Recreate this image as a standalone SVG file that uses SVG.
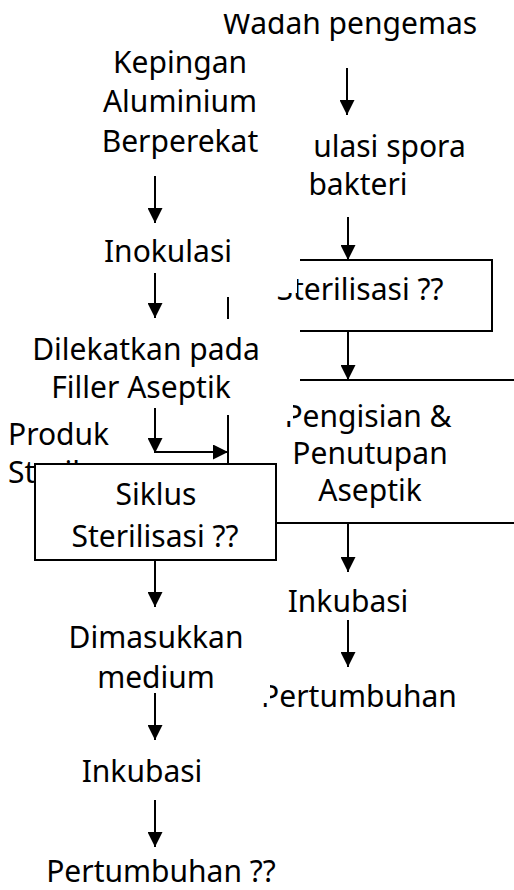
<svg xmlns="http://www.w3.org/2000/svg" width="514" height="890" viewBox="0 0 514 890">
<style>
text{font-family:"Noto Sans","DejaVu Sans",sans-serif;font-size:30px;fill:#000}
.c{text-anchor:middle}
.ln{stroke:#000;stroke-width:2;fill:none}
.ar{stroke:#000;stroke-width:2;fill:none;marker-end:url(#ah)}
.mask{fill:#fff;stroke:none}
</style>
<defs>
<marker id="ah" viewBox="0 0 15 15" refX="15" refY="7.5" markerWidth="15" markerHeight="15" markerUnits="userSpaceOnUse" orient="auto">
<path d="M0,0 L15,7.5 L0,15 z" fill="#000"/>
</marker>
</defs>
<rect width="514" height="890" fill="#fff"/>

<g id="wadah"><text class="c" x="350" y="34">Wadah pengemas</text></g>
<g id="inokulasi-spora"><text class="c" x="358" y="157">Inokulasi spora</text><text class="c" x="358" y="195">bakteri</text></g>
<g id="sterilisasi"><text class="c" x="360" y="300">Sterilisasi ??</text></g>
<g id="pengisian"><text class="c" x="368" y="427">Pengisian &amp;</text><text class="c" x="370" y="464">Penutupan</text><text class="c" x="370" y="501">Aseptik</text></g>
<g id="inkubasi-r"><text class="c" x="348" y="612">Inkubasi</text></g>
<g id="pertumbuhan-r"><text class="c" x="359" y="707">Pertumbuhan</text></g>
<g id="produk"><text x="8" y="445">Produk</text><text x="8" y="483">Steril</text></g>

<g id="masks">
<rect class="mask" x="200" y="0" width="280" height="14"/>
<rect class="mask" x="200" y="128" width="113" height="42"/>
<rect class="mask" x="260" y="268" width="37" height="25"/>
<rect class="mask" x="270" y="395" width="23" height="26"/>
<rect class="mask" x="250" y="680" width="20" height="23"/>
</g>

<g id="sterilisasi-box"><path class="ln" d="M300,260 H492 V331 H300 M228,297 V319"/></g>
<g id="pengisian-box"><path class="ln" d="M300,380 H514 M276,523 H514 M228,415 V463"/></g>

<g id="connectors">
<line class="ar" x1="347" y1="68" x2="347" y2="115"/>
<line class="ar" x1="348" y1="217" x2="348" y2="260"/>
<line class="ar" x1="348" y1="331" x2="348" y2="380"/>
<line class="ar" x1="348" y1="523" x2="348" y2="572"/>
<line class="ar" x1="348" y1="620" x2="348" y2="667"/>
<line class="ar" x1="155" y1="176" x2="155" y2="223"/>
<line class="ar" x1="155" y1="273" x2="155" y2="318"/>
<line class="ar" x1="155" y1="408" x2="155" y2="453"/>
<line class="ar" x1="155" y1="452" x2="228" y2="452"/>
<line class="ar" x1="155" y1="560" x2="155" y2="607"/>
<line class="ar" x1="155" y1="693" x2="155" y2="740"/>
<line class="ar" x1="155" y1="800" x2="155" y2="847"/>
</g>

<g id="kepingan"><text class="c" x="180" y="73">Kepingan</text><text class="c" x="180" y="112">Aluminium</text><text class="c" x="180" y="152">Berperekat</text></g>
<g id="inokulasi"><text class="c" x="168" y="262">Inokulasi</text></g>
<g id="dilekatkan"><text class="c" x="146" y="360">Dilekatkan pada</text><text class="c" x="141" y="398">Filler Aseptik</text></g>
<g id="siklus"><rect x="35" y="464" width="241" height="96" fill="#fff" stroke="#000" stroke-width="2"/><text class="c" x="156" y="505">Siklus</text><text class="c" x="155" y="547">Sterilisasi ??</text></g>
<g id="dimasukkan"><text class="c" x="156" y="648">Dimasukkan</text><text class="c" x="156" y="688">medium</text></g>
<g id="inkubasi-l"><text class="c" x="142" y="782">Inkubasi</text></g>
<g id="pertumbuhan-l"><text class="c" x="161" y="882">Pertumbuhan ??</text></g>
</svg>
